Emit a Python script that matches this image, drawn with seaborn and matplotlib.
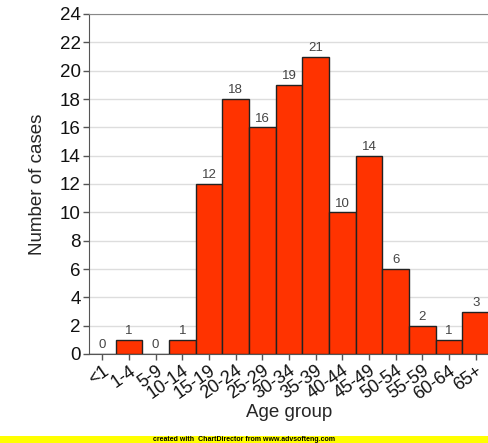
import matplotlib
matplotlib.use("Agg")
import matplotlib.pyplot as plt
import seaborn as sns
import pandas as pd

categories = ["<1", "1-4", "5-9", "10-14", "15-19", "20-24", "25-29", "30-34",
              "35-39", "40-44", "45-49", "50-54", "55-59", "60-64", "65+"]
cases = [0, 1, 0, 1, 12, 18, 16, 19, 21, 10, 14, 6, 2, 1, 3]
yticks = list(range(0, 25, 2))

sns.set_style("white")
plt.rcParams['font.family'] = ['Liberation Sans', 'DejaVu Sans']

df = pd.DataFrame({"Age group": categories, "Number of cases": cases})

fig = plt.figure(figsize=(4.89, 4.43), dpi=100)
ax = fig.add_axes([89/489, 89/443, 1 - 89/489, 340/443])

sns.barplot(data=df, x="Age group", y="Number of cases", order=categories,
            color="#FF3300", saturation=1, width=1.0, edgecolor="#222222",
            linewidth=1, ax=ax, zorder=3)

ax.set_ylim(0, 24)
ax.set_xlim(-0.5, len(categories) - 0.5)
ax.set_yticks(yticks)
ax.set_yticklabels([str(v) for v in yticks], fontsize=13.5, color="#111111")
ax.grid(axis="y", color="#DDDDDD", linewidth=1, zorder=0)
ax.set_axisbelow(True)

ax.set_xticks(range(len(categories)))
ax.set_xticklabels(categories, rotation=35, ha="right", rotation_mode="anchor",
                   fontsize=13, color="#111111")
ax.tick_params(axis="both", direction="out", length=4, width=1, color="#555555",
               bottom=True, left=True, pad=2)

ax.set_xlabel("Age group", fontsize=13.5, va="center")
ax.set_ylabel("Number of cases", fontsize=13.5, va="center")
ax.xaxis.set_label_coords(0.5, -0.1735)
ax.yaxis.set_label_coords(-0.1275, 0.5)

ax.spines["right"].set_visible(False)
ax.spines["top"].set_color("#888888")
ax.spines["left"].set_color("#555555")
ax.spines["bottom"].set_color("#555555")

for i, v in enumerate(cases):
    ax.annotate(str(v), (i, v), xytext=(0, 2), textcoords="offset points",
                ha="center", va="bottom", fontsize=9.5, color="#444444")

fig.patches.append(plt.Rectangle((0, 0), 1, 7/443, transform=fig.transFigure,
                                 facecolor="#FFFF00", edgecolor="none", zorder=0))
fig.text(0.5, 3.5/443, "created with  ChartDirector from www.advsofteng.com",
         ha="center", va="center", fontsize=5, fontweight="bold", color="#000000")

fig.savefig("out.png", dpi=100)
